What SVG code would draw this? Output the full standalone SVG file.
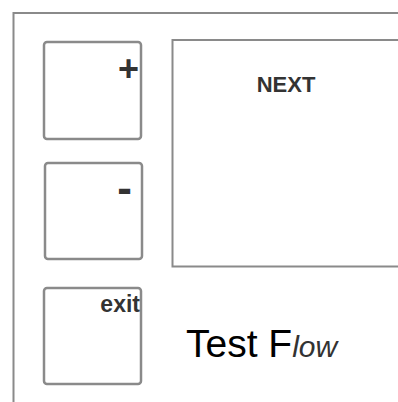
<svg xmlns="http://www.w3.org/2000/svg" width="398" height="402" viewBox="0 0 398 402">
<style>
.frame{fill:none;stroke:#8a8a8a;stroke-width:2}
.btn{fill:#fff;stroke:#8a8a8a;stroke-width:2.5}
.lbl{font-family:"Liberation Sans",Arial,sans-serif;font-weight:bold;fill:#333;text-anchor:end}
</style>
<rect width="398" height="402" fill="#fff"/>
<g id="frame"><path class="frame" d="M13.5,402 V13 H398"/></g>
<g id="screen"><path class="frame" d="M398,40 H172.5 V266.5 H398"/>
<text x="286" y="91.5" font-family="Liberation Sans,Arial,sans-serif" font-weight="bold" font-size="22" fill="#333" text-anchor="middle">NEXT</text></g>
<g id="btn-plus"><rect class="btn" x="44" y="42" width="97" height="97" rx="3"/><text class="lbl" x="139" y="81" font-size="36">+</text></g>
<g id="btn-minus"><rect class="btn" x="45" y="163" width="97" height="96" rx="3"/><text class="lbl" x="132" y="203" font-size="44">-</text></g>
<g id="btn-exit"><rect class="btn" x="44" y="288" width="97" height="96" rx="3"/><text class="lbl" x="140" y="312" font-size="23">exit</text></g>
<g id="title"><text x="186" y="357" font-family="Liberation Sans,Arial,sans-serif" font-size="39" fill="#000">Test F<tspan font-style="italic" font-size="30" fill="#333">low</tspan></text></g>
</svg>
